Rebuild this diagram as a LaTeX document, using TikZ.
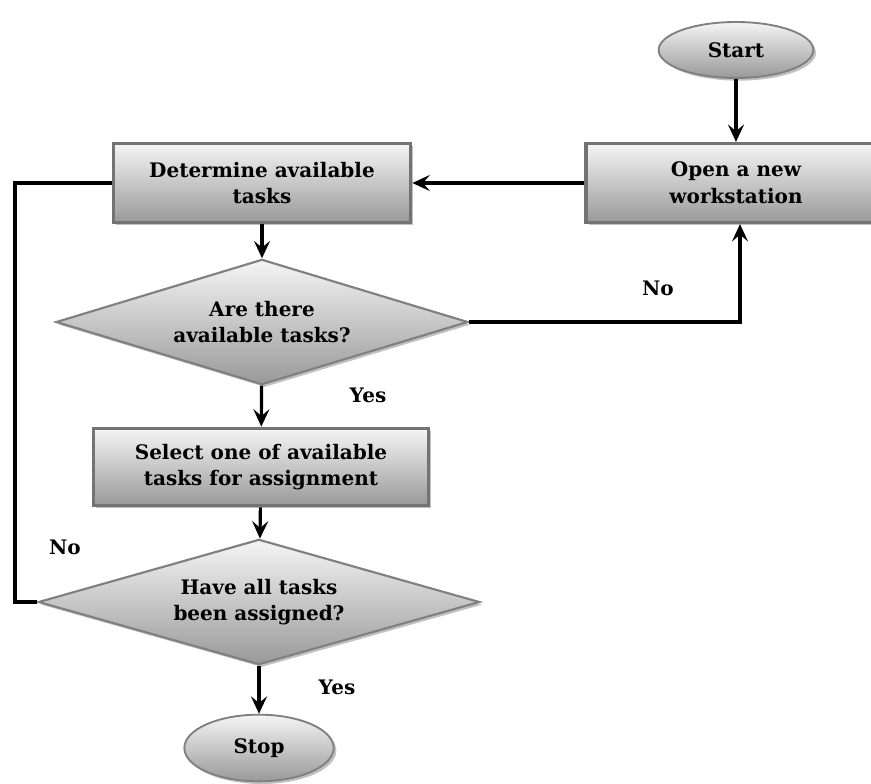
\documentclass[tikz,border=0pt]{standalone}
\usepackage{fontspec}
\setmainfont{DejaVu Serif}
\usetikzlibrary{arrows.meta,shapes.geometric,shadows}

\begin{document}
\begin{tikzpicture}[x=0.75pt,y=0.75pt,yscale=-1,xscale=1,
        txt/.style={font=\bfseries\fontsize{15}{20}\selectfont, text=black, align=center},
        shade/.style={shading=axis, top color=black!4, bottom color=black!40,
            drop shadow={shadow xshift=2pt, shadow yshift=-2pt, fill=black!30, opacity=0.8}},
        procbox/.style={txt, shade, rectangle, draw=black!55, line width=2.6pt, inner sep=0pt},
        decision/.style={txt, shade, diamond, draw=black!50, line width=1.6pt, inner sep=0pt},
        terminal/.style={txt, shade, ellipse, draw=black!50, line width=1.4pt, inner sep=0pt},
        flow/.style={line width=2.4pt, -{Stealth[length=13pt,width=12pt,inset=5pt]}}
    ]
        \useasboundingbox (0,0) rectangle (871,784);

        % nodes
        \draw (736,50) node [terminal, minimum width=116pt, minimum height=42pt] (start) {Start};
        \draw (736,183) node [procbox, minimum width=225pt, minimum height=59pt] (open) {Open a new\\workstation};
        \draw (262,183) node [procbox, minimum width=223pt, minimum height=59pt] (determine) {Determine available\\tasks};
        \draw (262,322) node [decision, aspect=3.27, minimum width=309pt, minimum height=94pt] (avail) {Are there\\available tasks?};
        \draw (261,467) node [procbox, minimum width=251pt, minimum height=58pt] (select) {Select one of available\\tasks for assignment};
        \draw (259,602) node [decision, aspect=3.54, minimum width=331pt, minimum height=94pt] (assigned) {Have all tasks\\been assigned?};
        \draw (259,748) node [terminal, minimum width=112pt, minimum height=50pt] (stop) {Stop};

        % yes / no labels
        \foreach \x/\y/\n/\t in {658/288/noa/No,368/395/yesa/Yes,65/547/nob/No,337/687/yesb/Yes}{
            \draw (\x,\y) node [txt] (\n) {\t};
        }

        \coordinate (loop) at (15,602);

        % connectors
        \draw [flow] (start) -- (open);
        \draw [flow] (open) -- (determine);
        \draw [flow] (determine) -- (avail);
        \draw [flow] (avail.east) -| ([xshift=3pt]open.south);
        \draw [flow] (avail) -- (select);
        \draw [flow] (select) -- (assigned);
        \draw [flow] (assigned) -- (stop);
        \draw [line width=2.4pt] (assigned.west) -- (loop) |- (determine.west);
    \end{tikzpicture}
\end{document}
